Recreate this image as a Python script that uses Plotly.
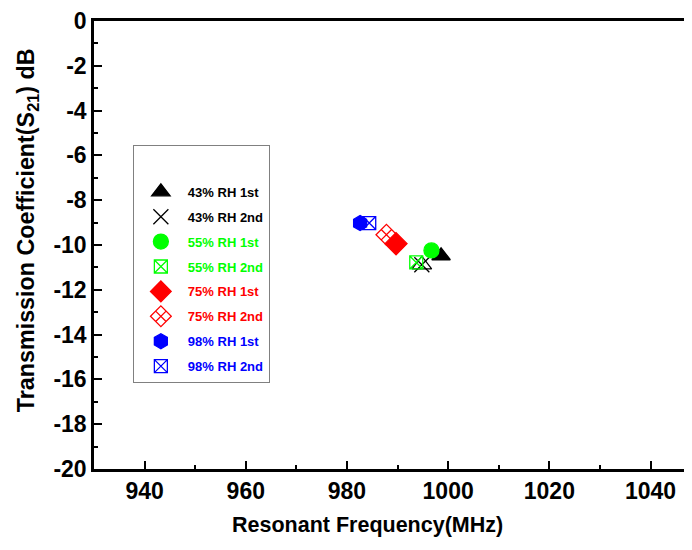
import plotly.graph_objects as go

labels = ["43% RH 1st", "43% RH 2nd", "55% RH 1st", "55% RH 2nd",
          "75% RH 1st", "75% RH 2nd", "98% RH 1st", "98% RH 2nd"]
freq = [998.6, 994.8, 996.7, 993.7, 989.7, 987.8, 982.6, 984.4]
s21 = [-10.48, -10.88, -10.24, -10.78, -9.94, -9.54, -9.02, -9.02]
colors = ["#000000", "#000000", "#00ff00", "#00ff00",
          "#ff0000", "#ff0000", "#0000ff", "#0000ff"]
symbols = ["triangle-up", "x-thin-open", "circle", "square-x-open",
           "diamond", "diamond-x-open", "hexagon", "square-x-open"]
sizes = [16, 15, 15, 13, 17, 16, 15, 13]

x_ticks = [940, 960, 980, 1000, 1020, 1040]
y_ticks = [0, -2, -4, -6, -8, -10, -12, -14, -16, -18, -20]
x_title = "Resonant Frequency(MHz)"
y_title = "Transmission Coefficient(S<sub>21</sub>) dB"

fig = go.Figure()
for i in range(len(labels)):
    if i == 1:
        fig.add_trace(go.Scatter(
            x=[freq[i]], y=[s21[i]], mode="markers", showlegend=False,
            legendgroup=f"g{i}",
            marker=dict(symbol="triangle-up-open", size=17, color=colors[i],
                        line=dict(width=1.3, color=colors[i])),
            hoverinfo="skip"))
    fig.add_trace(go.Scatter(
        x=[freq[i]], y=[s21[i]], mode="markers", legendgroup=f"g{i}",
        name=f"<span style='color:{colors[i]}'>{labels[i]}</span>",
        marker=dict(symbol=symbols[i], size=sizes[i], color=colors[i],
                    line=dict(width=1.3, color=colors[i]))))

font_family = "Liberation Sans, Arial, sans-serif"
# the page body adds an 8px offset, so the figure is 684x542
fig.update_layout(
    width=684, height=542,
    margin=dict(l=86, r=0, t=13, b=81),
    paper_bgcolor="white", plot_bgcolor="white",
    font=dict(family=font_family, color="black"),
    legend=dict(
        x=0.065, y=0.724, xanchor="left", yanchor="top",
        bgcolor="white", bordercolor="#808080", borderwidth=1,
        font=dict(size=13, family=font_family, weight="bold"),
        title=dict(text=" ", font=dict(size=24)),
        tracegroupgap=5, itemwidth=44,
    ),
    xaxis=dict(
        range=[930, 1048.2], tickvals=x_ticks,
        ticktext=[str(v) for v in x_ticks], automargin=False,
        ticks="inside", ticklen=8, tickwidth=2, tickcolor="black",
        minor=dict(ticks="inside", ticklen=4, tickwidth=2, dtick=10,
                   tick0=930, tickcolor="black"),
        showline=True, linewidth=2.5, linecolor="black", mirror=True,
        showgrid=False, zeroline=False,
        tickfont=dict(size=23, family=font_family, weight="bold"),
    ),
    yaxis=dict(
        range=[-20, 0], tickvals=y_ticks,
        ticktext=[str(v) for v in y_ticks], automargin=False,
        ticks="inside", ticklen=8, tickwidth=2, tickcolor="black",
        minor=dict(ticks="inside", ticklen=4, tickwidth=2, dtick=1,
                   tickcolor="black"),
        showline=True, linewidth=2.5, linecolor="black", mirror=False,
        showgrid=False, zeroline=False,
        tickfont=dict(size=23, family=font_family, weight="bold"),
    ),
    annotations=[
        dict(text=x_title, xref="paper", yref="paper", x=0.458, y=-0.125,
             xanchor="center", yanchor="middle", showarrow=False,
             font=dict(size=21.5, family=font_family, weight="bold")),
        dict(text=y_title, xref="paper", yref="paper", x=-0.110, y=0.5335,
             xanchor="center", yanchor="middle", showarrow=False,
             textangle=-90,
             font=dict(size=23.3, family=font_family, weight="bold")),
    ],
)

fig.write_html("out.html")
